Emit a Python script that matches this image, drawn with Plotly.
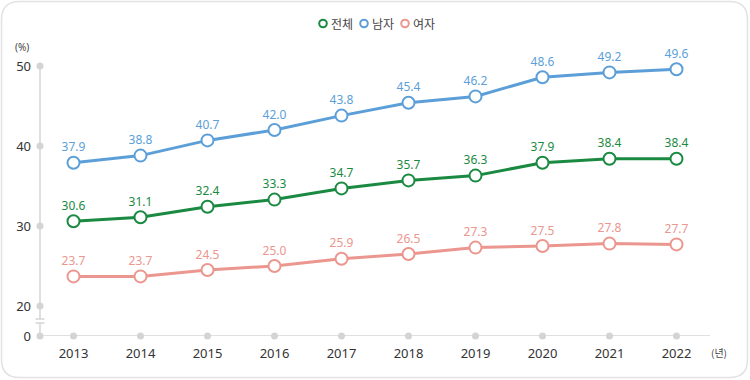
import plotly.graph_objects as go

years = [2013, 2014, 2015, 2016, 2017, 2018, 2019, 2020, 2021, 2022]
total = [30.6, 31.1, 32.4, 33.3, 34.7, 35.7, 36.3, 37.9, 38.4, 38.4]
male = [37.9, 38.8, 40.7, 42.0, 43.8, 45.4, 46.2, 48.6, 49.2, 49.6]
female = [23.7, 23.7, 24.5, 25.0, 25.9, 26.5, 27.3, 27.5, 27.8, 27.7]
series_names = ["전체", "남자", "여자"]
y_tick_labels = ["0", "20", "30", "40", "50"]
y_tick_values = [0, 20, 30, 40, 50]

colors = ["#1a8a42", "#5c9fd8", "#eb968e"]
W, H = 750, 380
L, R, T, B = 40, 40, 66, 44
ZERO_POS = 16.25  # broken axis: 0 drawn just below 20
FONT = "Noto Sans, Noto Sans CJK KR, sans-serif"
FONT_KR = "Noto Sans CJK KR, Noto Sans, sans-serif"


def ymap(v):
    return ZERO_POS if v == 0 else v


def px_x(p):
    return (p - L) / (W - L - R)


def px_y(p):
    return (H - B - p) / (H - T - B)


fig = go.Figure()

# axis dots
fig.add_trace(go.Scatter(x=[2012.5] * len(y_tick_values), y=[ymap(v) for v in y_tick_values],
                         mode="markers", marker=dict(size=7, color="#d4d4d4"),
                         cliponaxis=False, showlegend=False, hoverinfo="skip"))
fig.add_trace(go.Scatter(x=years, y=[ZERO_POS] * len(years),
                         mode="markers", marker=dict(size=7, color="#d4d4d4"),
                         cliponaxis=False, showlegend=False, hoverinfo="skip"))

for name, vals, c in zip(series_names, [total, male, female], colors):
    fig.add_trace(go.Scatter(
        x=years, y=vals, mode="lines+markers+text", name=name,
        line=dict(color=c, width=3),
        marker=dict(size=12, color="white", line=dict(color=c, width=2)),
        text=[f"{v:.1f}" for v in vals], textposition="top center",
        textfont=dict(color=c, size=12, family=FONT),
        cliponaxis=False, showlegend=False))

shapes = []
annotations = []
# outer rounded border
x0, x1 = px_x(1.5), px_x(W - 2.5)
y0, y1 = px_y(1.5), px_y(H - 2.5)
r = 18
rx = r / (W - L - R)
ry = r / (H - T - B)
path = (f"M {x0 + rx},{y0} L {x1 - rx},{y0} Q {x1},{y0} {x1},{y0 - ry} "
        f"L {x1},{y1 + ry} Q {x1},{y1} {x1 - rx},{y1} "
        f"L {x0 + rx},{y1} Q {x0},{y1} {x0},{y1 + ry} "
        f"L {x0},{y0 - ry} Q {x0},{y0} {x0 + rx},{y0} Z")
shapes.append(dict(type="path", xref="paper", yref="paper", path=path,
                   line=dict(color="#e2e2e2", width=1.5), layer="below"))
# y axis with break
b_hi = 18.375
b_lo = 17.875
shapes.append(dict(type="line", xref="paper", yref="y", x0=0, x1=0, y0=50, y1=b_hi,
                   line=dict(color="#e0e0e0", width=2), layer="below"))
shapes.append(dict(type="line", xref="paper", yref="y", x0=0, x1=0, y0=b_lo, y1=ZERO_POS,
                   line=dict(color="#e0e0e0", width=2), layer="below"))
for yb in (b_hi, b_lo):
    shapes.append(dict(type="line", xref="paper", yref="y", x0=px_x(35.5), x1=px_x(44.5),
                       y0=yb, y1=yb, line=dict(color="#d4d4d4", width=1.5), layer="below"))
# x axis line
shapes.append(dict(type="line", xref="paper", yref="y", x0=0, x1=1, y0=ZERO_POS, y1=ZERO_POS,
                   line=dict(color="#e0e0e0", width=2), layer="below"))

# custom legend
leg_x = [323, 364, 405]
leg_y = 23.5
for name, c, cx in zip(series_names, colors, leg_x):
    rr = 3.8
    shapes.append(dict(type="circle", xref="paper", yref="paper",
                       x0=px_x(cx - rr), x1=px_x(cx + rr), y0=px_y(leg_y + rr), y1=px_y(leg_y - rr),
                       line=dict(color=c, width=2), fillcolor="white"))
    annotations.append(dict(text=name, xref="paper", yref="paper", x=px_x(cx + 5.5), y=px_y(leg_y),
                            xanchor="left", yanchor="middle", showarrow=False,
                            font=dict(size=12, color="#444444", family=FONT_KR)))

annotations += [
    dict(text="(%)", xref="paper", yref="paper", x=px_x(22), y=px_y(47),
         xanchor="center", yanchor="middle",
         showarrow=False, font=dict(size=10, color="#444444", family=FONT)),
    dict(text="(년)", xref="paper", yref="paper", x=px_x(719), y=px_y(352),
         xanchor="center", yanchor="middle",
         showarrow=False, font=dict(size=10, color="#444444", family=FONT_KR)),
]

fig.update_layout(
    width=W, height=H,
    margin=dict(l=L, r=R, t=T, b=B, autoexpand=False),
    paper_bgcolor="white", plot_bgcolor="white",
    font=dict(family=FONT, color="#333333", size=13),
    shapes=shapes,
    showlegend=False,
    xaxis=dict(range=[2012.5, 2022.5], tickvals=years, ticktext=[str(y) for y in years],
               showgrid=False, zeroline=False, showline=False, ticks="",
               ticklabelstandoff=8, tickfont=dict(size=13, color="#333333", family=FONT),
               fixedrange=True),
    yaxis=dict(range=[ZERO_POS, 50], tickvals=[ymap(v) for v in y_tick_values],
               ticktext=y_tick_labels, showgrid=False, zeroline=False, showline=False,
               ticks="", ticklabelstandoff=8, tickfont=dict(size=13, color="#333333", family=FONT),
               fixedrange=True),
    annotations=annotations,
)

fig.write_html("out.html", post_script="document.body.style.margin='0';",
               config={"displayModeBar": False})
